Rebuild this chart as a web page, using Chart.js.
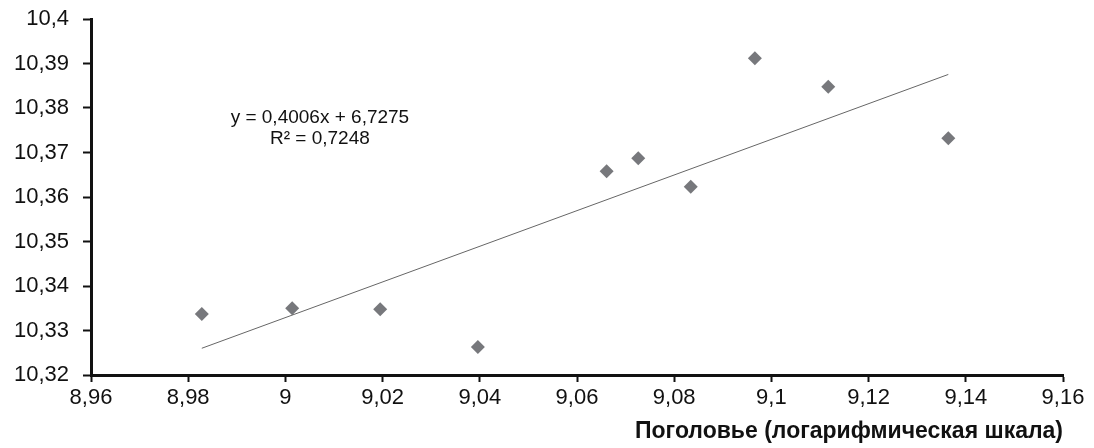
<!DOCTYPE html>
<html>
<head>
<meta charset="utf-8">
<script src="https://cdn.jsdelivr.net/npm/chart.js@4/dist/chart.umd.min.js"></script>
<style>
  html, body { margin: 0; padding: 0; background: #fff; }
  #wrap { width: 1094px; height: 448px; }
</style>
</head>
<body>
<div id="wrap"><canvas id="scatterChart"></canvas></div>
<script>
// points (x = log of herd size, y = log of the other variable)
const xValues = [8.9828, 9.0014, 9.0195, 9.0396, 9.0661, 9.0726, 9.0834, 9.0966, 9.1117, 9.1364];
const yValues = [10.3337, 10.3350, 10.3348, 10.3263, 10.3658, 10.3687, 10.3623, 10.3912, 10.3848, 10.3732];

// linear trend shown on the chart
const trendSlope = 0.4006;
const trendIntercept = 6.7275;
const trendText = ["y = 0,4006x + 6,7275", "R² = 0,7248"];

const xTicks = [8.96, 8.98, 9.00, 9.02, 9.04, 9.06, 9.08, 9.10, 9.12, 9.14, 9.16];
const xTickLabels = ["8,96", "8,98", "9", "9,02", "9,04", "9,06", "9,08", "9,1", "9,12", "9,14", "9,16"];
const yTicks = [10.32, 10.33, 10.34, 10.35, 10.36, 10.37, 10.38, 10.39, 10.40];
const yTickLabels = ["10,32", "10,33", "10,34", "10,35", "10,36", "10,37", "10,38", "10,39", "10,4"];

const xTitle = "Поголовье (логарифмическая шкала)";

const points = xValues.map((x, i) => ({x: x, y: yValues[i]}));
const xFirst = Math.min(...xValues);
const xLast = Math.max(...xValues);
const trendPoints = [
    {x: xFirst, y: trendSlope * xFirst + trendIntercept},
    {x: xLast, y: trendSlope * xLast + trendIntercept}
];

// writes the equation of the trend line, anchored in data space
const equationLabel = {
    id: "equationLabel",
    afterDatasetsDraw(chart) {
        const ctx = chart.ctx;
        const cx = chart.scales.x.getPixelForValue(9.0071);
        const cy = chart.scales.y.getPixelForValue(10.3778);
        ctx.save();
        ctx.fillStyle = "#111";
        ctx.font = "19px 'Liberation Sans', Arial, sans-serif";
        ctx.textAlign = "center";
        ctx.textBaseline = "middle";
        ctx.fillText(trendText[0], cx, cy);
        ctx.fillText(trendText[1], cx, cy + 21);
        ctx.restore();
    }
};

const tickFont = {family: "'Liberation Sans', Arial, sans-serif", size: 22};

new Chart(document.getElementById("scatterChart"), {
    type: "scatter",
    data: {
        datasets: [
            {
                label: "trend",
                type: "line",
                data: trendPoints,
                borderColor: "#666",
                borderWidth: 1,
                pointRadius: 0,
                fill: false
            },
            {
                label: "data",
                data: points,
                pointStyle: "rectRot",
                pointRadius: 7,
                pointBackgroundColor: "#77787c",
                pointBorderColor: "#77787c",
                pointBorderWidth: 0
            }
        ]
    },
    options: {
        responsive: true,
        maintainAspectRatio: false,
        animation: false,
        layout: {padding: {top: 19, right: 31, bottom: 0, left: 0}},
        plugins: {legend: {display: false}, tooltip: {enabled: false}},
        scales: {
            x: {
                type: "linear",
                min: 8.96,
                max: 9.16,
                afterBuildTicks: (scale) => { scale.ticks = xTicks.map(v => ({value: v})); },
                afterFit: (scale) => { scale.height = 73; scale.paddingLeft = 0; scale.paddingRight = 0; },
                ticks: {
                    color: "#111",
                    font: tickFont,
                    padding: 3,
                    maxRotation: 0,
                    autoSkip: false,
                    callback: (value, index) => xTickLabels[index]
                },
                grid: {drawOnChartArea: false, drawTicks: true, tickLength: 7, tickWidth: 2, tickColor: "#111"},
                border: {display: true, color: "#111", width: 3},
                title: {
                    display: true,
                    text: xTitle,
                    align: "end",
                    color: "#111",
                    font: {family: "'Liberation Sans', Arial, sans-serif", size: 23, weight: "bold"},
                    padding: {top: 0, bottom: 3}
                }
            },
            y: {
                type: "linear",
                min: 10.32,
                max: 10.40,
                afterBuildTicks: (scale) => { scale.ticks = yTicks.map(v => ({value: v})); },
                afterFit: (scale) => { scale.width = 91; scale.paddingTop = 0; scale.paddingBottom = 0; },
                ticks: {
                    color: "#111",
                    font: tickFont,
                    padding: 14,
                    autoSkip: false,
                    callback: (value, index) => yTickLabels[index]
                },
                grid: {drawOnChartArea: false, drawTicks: true, tickLength: 8, tickWidth: 2, tickColor: "#111"},
                border: {display: true, color: "#111", width: 3}
            }
        }
    },
    plugins: [equationLabel]
});
</script>
</body>
</html>
